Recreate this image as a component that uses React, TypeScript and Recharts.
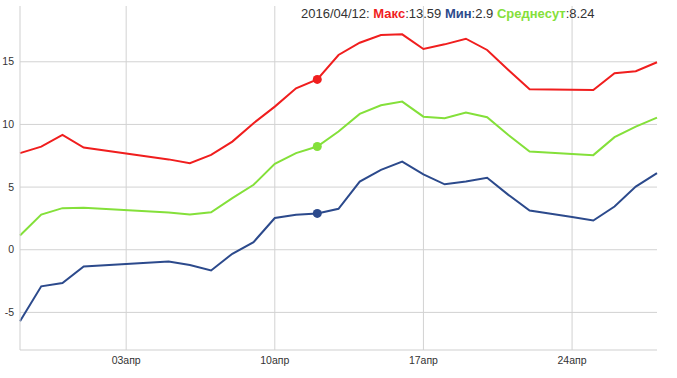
import { LineChart, Line, XAxis, YAxis, CartesianGrid } from "recharts";

// observed days (no readings for 2016-04-02 .. 2016-04-04)
const dates = [
  "2016-03-29", "2016-03-30", "2016-03-31", "2016-04-01",
  "2016-04-05", "2016-04-06", "2016-04-07", "2016-04-08", "2016-04-09", "2016-04-10",
  "2016-04-11", "2016-04-12", "2016-04-13", "2016-04-14", "2016-04-15", "2016-04-16",
  "2016-04-17", "2016-04-18", "2016-04-19", "2016-04-20", "2016-04-21", "2016-04-22",
  "2016-04-23", "2016-04-24", "2016-04-25", "2016-04-26", "2016-04-27", "2016-04-28",
];
const maxTemp = [
  7.71, 8.23, 9.16, 8.15, 7.21, 6.91, 7.57, 8.63, 10.1, 11.42, 12.88, 13.59, 15.54, 16.52,
  17.13, 17.19, 16.02, 16.39, 16.84, 15.94, 14.34, 12.8, 12.78, 12.76, 12.75, 14.08, 14.24, 14.96,
];
const minTemp = [
  -5.71, -2.92, -2.65, -1.33, -0.93, -1.22, -1.65, -0.32, 0.61, 2.53, 2.79, 2.9, 3.27, 5.44,
  6.37, 7.04, 6.02, 5.22, 5.44, 5.74, 4.38, 3.13, 2.87, 2.61, 2.33, 3.45, 5.04, 6.11,
];
const avgTemp = [
  1.14, 2.81, 3.32, 3.35, 2.97, 2.81, 2.99, 4.12, 5.18, 6.85, 7.71, 8.24, 9.43, 10.84,
  11.53, 11.82, 10.62, 10.49, 10.94, 10.57, 9.16, 7.83, 7.74, 7.64, 7.55, 8.98, 9.82, 10.54,
];
const tickDates = ["2016-04-03", "2016-04-10", "2016-04-17", "2016-04-24"];
const tickLabels = ["03апр", "10апр", "17апр", "24апр"];
const yTicks = [-5, 0, 5, 10, 15];
const selectedDate = "2016-04-12";

const RED = "#f01e1e";
const BLUE = "#2c4a8c";
const GREEN = "#84e03a";
const FONT = "'Liberation Sans', Arial, sans-serif";

const DAY = 86400000;
const start = Date.parse(dates[0]);
const toDay = (d: string) => Math.round((Date.parse(d) - start) / DAY);

const chartData = dates.map((d, i) => ({
  day: toDay(d),
  date: d,
  max: maxTemp[i],
  min: minTemp[i],
  avg: avgTemp[i],
}));
const xTicks = tickDates.map(toDay);
const selIdx = dates.indexOf(selectedDate);

const makeDot = (color: string) => (props: any) => {
  const { cx, cy, index } = props;
  if (index !== selIdx) return <g key={`d-${index}`} />;
  return <circle key={`d-${index}`} cx={cx} cy={cy} r={4.5} fill={color} stroke="none" />;
};

export default function App() {
  return (
    <div
      style={{
        position: "absolute",
        left: 0,
        top: 0,
        width: 677,
        height: 378,
        background: "#fff",
        fontFamily: FONT,
      }}
    >
      <LineChart
        width={677}
        height={378}
        data={chartData}
        margin={{ top: 6, right: 20, bottom: 0, left: 0 }}
      >
        <CartesianGrid
          stroke="#d2d2d2"
          strokeWidth={1}
          horizontalValues={yTicks}
          verticalValues={xTicks}
        />
        <XAxis
          dataKey="day"
          type="number"
          domain={[0, 30]}
          ticks={xTicks}
          tickFormatter={(v) => tickLabels[xTicks.indexOf(v)] ?? ""}
          height={28}
          tickSize={0}
          tickMargin={7}
          axisLine={{ stroke: "#cfcfcf" }}
          tick={{ fontSize: 10.5, fill: "#333", fontFamily: FONT }}
        />
        <YAxis
          domain={[-8, 19.45]}
          ticks={yTicks}
          allowDataOverflow
          width={20}
          tickSize={0}
          tickMargin={6}
          axisLine={{ stroke: "#cfcfcf" }}
          tick={{ fontSize: 10.5, fill: "#333", fontFamily: FONT }}
        />
        <Line
          type="linear"
          dataKey="max"
          stroke={RED}
          strokeWidth={2}
          dot={makeDot(RED)}
          activeDot={false}
          isAnimationActive={false}
        />
        <Line
          type="linear"
          dataKey="avg"
          stroke={GREEN}
          strokeWidth={2}
          dot={makeDot(GREEN)}
          activeDot={false}
          isAnimationActive={false}
        />
        <Line
          type="linear"
          dataKey="min"
          stroke={BLUE}
          strokeWidth={2}
          dot={makeDot(BLUE)}
          activeDot={false}
          isAnimationActive={false}
        />
      </LineChart>
      <div
        style={{
          position: "absolute",
          left: 301,
          top: 6,
          fontSize: 13,
          lineHeight: "15px",
          color: "#333",
          whiteSpace: "nowrap",
        }}
      >
        {selectedDate.replace(/-/g, "/")}:{" "}
        <b style={{ color: RED }}>Макс</b>:{maxTemp[selIdx]}{" "}
        <b style={{ color: BLUE }}>Мин</b>:{minTemp[selIdx]}{" "}
        <b style={{ color: GREEN }}>Среднесут</b>:{avgTemp[selIdx]}
      </div>
    </div>
  );
}
